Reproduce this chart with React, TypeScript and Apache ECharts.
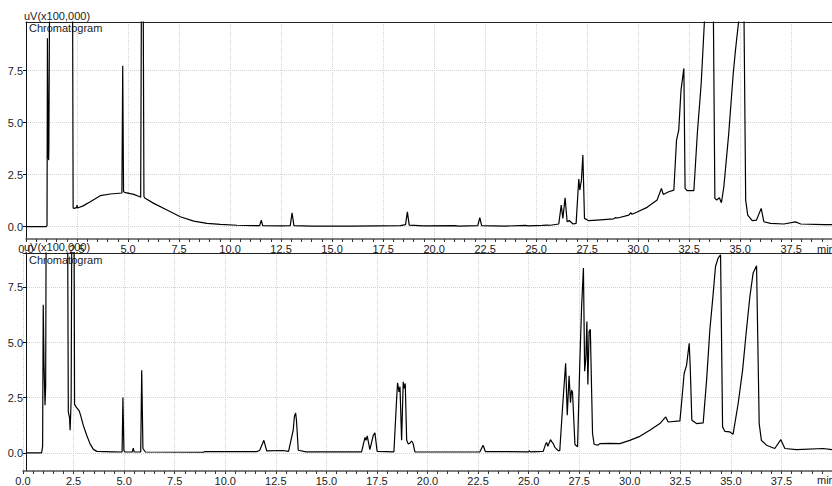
import React, { useEffect, useRef } from "react";
import * as echarts from "echarts";

// ---- Top chromatogram (time in min, signal in uV x100,000) ----
const topTimes = [
  0.0, 0.98, 1.03, 1.05, 1.09, 1.11, 1.12, 1.16, 2.28, 2.31, 2.35, 2.48, 2.5, 2.53, 2.8,
  3.15, 3.64, 4.13, 4.7, 4.74, 4.78, 4.83, 5.28, 5.55, 5.62, 5.66, 5.74, 5.78, 5.82, 6.26,
  6.91, 7.56, 8.22, 8.87, 9.52, 10.34, 11.16, 11.45, 11.53, 11.6, 12.5, 12.95, 13.04, 13.13,
  14.0, 16.0, 18.35, 18.6, 18.69, 18.78, 19.5, 21.04, 21.2, 22.14, 22.24, 22.33, 23.5, 24.48,
  24.6, 25.3, 25.54, 25.7, 26.11, 26.23, 26.31, 26.42, 26.52, 26.62, 26.81, 26.96, 27.09,
  27.14, 27.22, 27.29, 27.37, 27.58, 27.99, 28.8, 28.9, 29.0, 29.54, 29.63, 29.7, 29.95,
  30.44, 30.93, 31.14, 31.23, 31.5, 31.75, 31.88, 31.99, 32.1, 32.24, 32.3, 32.4, 32.73,
  32.9, 33.09, 33.25, 33.3, 33.65, 33.69, 33.76, 33.85, 33.98, 34.08, 34.2, 34.44, 34.66,
  34.77, 34.85, 34.93, 34.97, 35.17, 35.19, 35.27, 35.37, 35.59, 35.8, 36.03, 36.16, 36.49,
  37.14, 37.71, 37.97, 39.1, 39.5,
];
const topSignal = [
  0.0, 0.0, 0.05, 9.05, 3.4, 3.2, 3.8, 12, 12, 0.9, 0.88, 0.92, 1.04, 0.9, 1.0,
  1.2, 1.49, 1.57, 1.62, 7.73, 1.7, 1.65, 1.55, 1.45, 1.41, 12, 12, 1.45, 1.38, 1.12,
  0.8, 0.48, 0.27, 0.16, 0.11, 0.07, 0.05, 0.05, 0.32, 0.05, 0.04, 0.05, 0.67, 0.05,
  0.03, 0.03, 0.05, 0.1, 0.71, 0.08, 0.04, 0.05, 0.03, 0.05, 0.43, 0.05, 0.03, 0.06,
  0.04, 0.06, 0.08, 0.07, 0.13, 1.04, 0.4, 1.39, 0.24, 0.3, 0.13, 0.16, 2.29,
  1.76, 2.24, 3.44, 0.4, 0.29, 0.32, 0.38, 0.44, 0.42, 0.56, 0.67, 0.6, 0.71,
  0.93, 1.28, 1.84, 1.55, 1.68, 1.76, 4.16, 4.64, 6.56, 7.6, 1.84, 1.73, 1.73,
  4.48, 6.88, 9.9, 12, 12, 9.8, 1.36, 1.28, 1.39, 1.15, 1.92, 4.48, 7.36,
  8.48, 9.2, 9.9, 12, 12, 9.8, 1.28, 0.56, 0.29, 0.32, 0.88, 0.24, 0.16,
  0.13, 0.23, 0.13, 0.1, 0.1,
];

// ---- Bottom chromatogram ----
const bottomTimes = [
  0.15, 0.92, 0.97, 1.0, 1.04, 1.09, 1.12, 1.15, 2.2, 2.24, 2.3, 2.33, 2.38, 2.42, 2.52,
  2.55, 2.65, 2.78, 2.85, 2.98, 3.15, 3.31, 3.48, 3.65, 4.47, 4.9, 4.94, 4.99, 5.05, 5.4,
  5.45, 5.5, 5.82, 5.87, 5.93, 6.05, 8.9, 9.0, 11.55, 11.7, 11.91, 12.05, 12.86, 13.13,
  13.36, 13.42, 13.48, 13.52, 13.61, 14.0, 16.74, 16.91, 16.96, 17.02, 17.15, 17.32, 17.4,
  17.51, 18.34, 18.47, 18.52, 18.59, 18.64, 18.72, 18.8, 18.85, 18.9, 18.97, 19.05, 19.14,
  19.21, 19.28, 19.38, 22.59, 22.75, 22.86, 25.0, 25.03, 25.08, 25.72, 25.85, 25.89, 25.95,
  26.08, 26.15, 26.22, 26.3, 26.46, 26.54, 26.68, 26.83, 26.91, 27.0, 27.07, 27.12, 27.17,
  27.29, 27.42, 27.53, 27.62, 27.71, 27.77, 27.83, 27.88, 27.93, 27.99, 28.05, 28.16, 28.24,
  28.44, 28.52, 29.0, 29.51, 30.0, 30.5, 30.99, 31.49, 31.78, 31.9, 32.48, 32.56, 32.69,
  32.81, 32.94, 32.99, 33.07, 33.3, 33.63, 33.8, 33.96, 34.12, 34.24, 34.37, 34.49, 34.59,
  34.7, 34.95, 35.11, 35.36, 35.58, 35.77, 35.94, 36.1, 36.27, 36.4, 36.51, 36.76, 37.17,
  37.47, 37.67, 38.24, 39.56, 40.0,
];
const bottomSignal = [
  0.0, 0.0, 0.3, 6.71, 4.0, 2.16, 3.0, 12, 12, 1.86, 1.6, 1.03, 2.4, 12, 12,
  2.2, 2.05, 1.9, 1.7, 1.25, 0.8, 0.42, 0.16, 0.07, 0.05, 0.04, 2.51, 0.1, 0.04, 0.04,
  0.22, 0.04, 0.05, 3.75, 0.2, 0.04, 0.03, 0.06, 0.06, 0.11, 0.57, 0.09, 0.11, 0.07,
  1.03, 1.65, 1.81, 1.5, 0.12, 0.05, 0.05, 0.7, 0.57, 0.77, 0.15, 0.8, 0.91,
  0.07, 0.05, 2.39, 3.18, 2.77, 3.0, 0.57, 3.22, 2.92, 3.15, 0.57, 0.4, 0.45,
  0.54, 0.45, 0.04, 0.05, 0.35, 0.06, 0.05, 0.1, 0.05, 0.07, 0.42, 0.47, 0.3,
  0.6, 0.5, 0.42, 0.25, 0.1, 0.1, 2.09, 4.06, 1.71, 3.5, 2.28, 2.85, 2.75,
  0.38, 0.28, 4.06, 6.63, 8.38, 3.7, 4.3, 5.95, 3.1, 5.5, 5.6, 0.88, 0.38,
  0.35, 0.42, 0.43, 0.42, 0.57, 0.75, 1.03, 1.33, 1.63, 1.4, 1.45, 2.24, 3.6,
  3.98, 4.97, 3.9, 1.48, 1.33, 1.36, 3.3, 5.57, 7.16, 8.45, 8.83, 8.98, 1.18,
  0.98, 0.95, 0.85, 2.24, 3.75, 5.57, 7.09, 8.15, 8.48, 1.33, 0.57, 0.35, 0.2,
  0.6, 0.2, 0.15, 0.2, 0.15,
];

// ---- Axis ticks ----
const yTickValues = [0, 2.5, 5.0, 7.5];
const xInterval = 2.5;
const yAxisTitle = "uV(x100,000)";
const panelTitle = "Chromatogram";
const xUnit = "min";

const FONT = '"Liberation Sans", Arial, sans-serif';

function zip(a: number[], b: number[]) {
  return a.map((t, i) => [t, b[i]]);
}

function xAxisBottom(gridIndex: number, min: number, max: number) {
  return {
    type: "value",
    gridIndex,
    position: "bottom",
    min,
    max,
    interval: xInterval,
    axisLine: { show: true, onZero: false, lineStyle: { color: "#555", width: 1.5 } },
    axisTick: { show: true, length: 3, lineStyle: { color: "#333" } },
    minorTick: { show: true, splitNumber: 5, length: 3, lineStyle: { color: "#333" } },
    axisLabel: {
      show: true,
      margin: 4,
      color: "#222",
      fontSize: 11,
      fontFamily: FONT,
      showMaxLabel: false,
      formatter: (v: number) => v.toFixed(1),
    },
    splitLine: { show: true, lineStyle: { color: "#d2d2d2", type: "dotted", width: 1 } },
    minorSplitLine: { show: false },
  };
}

function xAxisTop(gridIndex: number, min: number, max: number) {
  return {
    type: "value",
    gridIndex,
    position: "top",
    min,
    max,
    axisLine: { show: true, onZero: false, lineStyle: { color: "#222", width: 1 } },
    axisTick: { show: false },
    axisLabel: { show: false },
    splitLine: { show: false },
  };
}

function yAxis(gridIndex: number, min: number, max: number, offset: number) {
  return {
    type: "value",
    gridIndex,
    position: "left",
    offset,
    min,
    max,
    axisLine: { show: true, onZero: false, lineStyle: { color: "#111", width: 1 } },
    axisTick: { show: true, length: 3, customValues: yTickValues, lineStyle: { color: "#111" } },
    axisLabel: {
      show: true,
      margin: 3,
      color: "#222",
      fontSize: 11,
      fontFamily: FONT,
      customValues: yTickValues,
      formatter: (v: number) => v.toFixed(1),
    },
    splitLine: { show: true, lineStyle: { color: "#d2d2d2", type: "dotted", width: 1 } },
  };
}

function label(text: string, x: number, y: number) {
  return {
    type: "text",
    x,
    y,
    silent: true,
    style: { text, fill: "#222", fontSize: 11, fontFamily: FONT, verticalAlign: "top", align: "left" },
  };
}

export default function App() {
  const ref = useRef<HTMLDivElement>(null);

  useEffect(() => {
    document.body.style.margin = "0";
    if (!ref.current) return;
    const chart = echarts.init(ref.current, null, { renderer: "svg" });
    chart.setOption({
      animation: false,
      backgroundColor: "#ffffff",
      grid: [
        { left: 26, top: 22, width: 806, height: 217 },
        { left: 23, top: 253, width: 809, height: 218 },
      ],
      xAxis: [
        xAxisBottom(0, 0, 39.5),
        xAxisTop(0, 0, 39.5),
        xAxisBottom(1, 0, 40),
        xAxisTop(1, 0, 40),
      ],
      yAxis: [yAxis(0, -0.59, 9.83, 0), yAxis(1, -0.82, 9.06, -3)],
      series: [
        {
          type: "line",
          xAxisIndex: 0,
          yAxisIndex: 0,
          data: zip(topTimes, topSignal),
          symbol: "none",
          showSymbol: false,
          clip: true,
          lineStyle: { color: "#000", width: 1.2 },
        },
        {
          type: "line",
          xAxisIndex: 2,
          yAxisIndex: 1,
          data: zip(bottomTimes, bottomSignal),
          symbol: "none",
          showSymbol: false,
          clip: true,
          lineStyle: { color: "#000", width: 1.2 },
        },
      ],
      graphic: [
        label(yAxisTitle, 24, 10),
        label(panelTitle, 29, 22),
        label(xUnit, 817, 243),
        label(yAxisTitle, 24, 241),
        label(panelTitle, 29, 254),
        label(xUnit, 817, 474),
      ],
    });
    return () => chart.dispose();
  }, []);

  return <div ref={ref} style={{ width: 832, height: 486 }} />;
}
